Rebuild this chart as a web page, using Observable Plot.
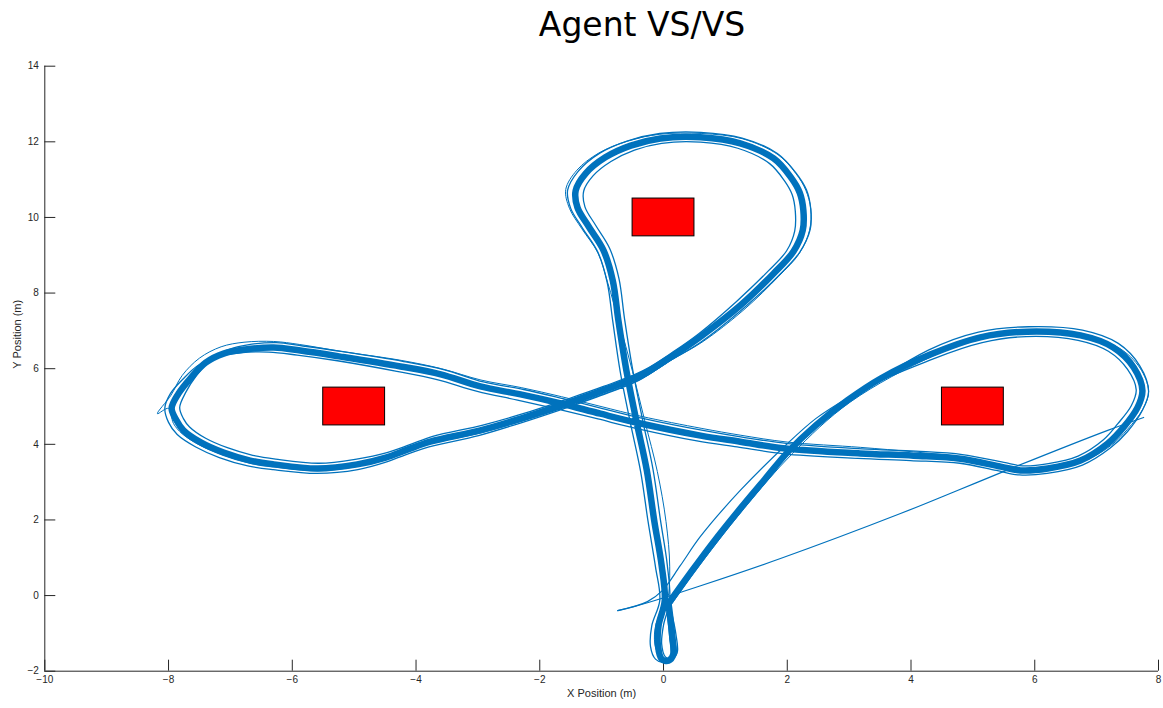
<!DOCTYPE html>
<html>
<head>
<meta charset="utf-8">
<script src="https://cdn.jsdelivr.net/npm/d3@7"></script>
<script src="https://cdn.jsdelivr.net/npm/@observablehq/plot@0.6"></script>
<style>
  html, body { margin: 0; padding: 0; background: #fff; overflow: hidden; }
  #wrap { position: relative; width: 1163px; height: 708px; }
  #title { position: absolute; top: 5px; left: 642px; transform: translateX(-50%);
           font-family: "DejaVu Sans", sans-serif; font-size: 33px; line-height: 40px;
           color: #000; white-space: nowrap; }
  #chart { position: absolute; top: 50px; left: 0; }
</style>
</head>
<body>
<div id="wrap">
  <div id="title">Agent VS/VS</div>
  <div id="chart"></div>
</div>
<script>
// ---- data ----
const titleText = "Agent VS/VS";
const xLabel = "X Position (m)";
const yLabel = "Y Position (m)";
const xTicks = [-10, -8, -6, -4, -2, 0, 2, 4, 6, 8];
const yTicks = [-2, 0, 2, 4, 6, 8, 10, 12, 14];

// obstacles (red boxes)
const obsX1 = [-0.5, -5.5, 4.5];
const obsX2 = [0.5, -4.5, 5.5];
const obsY1 = [9.5, 4.5, 4.5];
const obsY2 = [10.5, 5.5, 5.5];

// typical lap (centre of the bundle)
const lapMain = [
  [0.08,-0.21],[0.44,0.61],[0.79,1.38],[1.24,2.30],[1.65,3.10],[2.00,3.78],[2.46,4.50],[2.97,5.16],
  [3.51,5.74],[4.32,6.38],[5.12,6.83],[5.88,6.98],[6.74,6.88],[7.27,6.56],[7.60,6.03],[7.74,5.42],
  [7.66,4.97],[7.43,4.44],[7.18,4.02],[6.74,3.57],[6.21,3.36],[5.77,3.31],[5.45,3.41],[4.80,3.62],
  [4.04,3.70],[3.18,3.76],[1.97,3.89],[1.24,4.07],[0.60,4.23],[-0.37,4.55],[-1.02,4.81],[-1.66,5.08],
  [-2.31,5.32],[-2.96,5.53],[-3.60,5.85],[-4.25,6.06],[-5.22,6.32],[-5.87,6.48],[-6.30,6.56],[-6.76,6.51],
  [-7.11,6.40],[-7.40,6.16],[-7.65,5.74],[-7.84,5.34],[-7.95,4.95],[-7.87,4.63],[-7.76,4.37],[-7.48,4.05],
  [-7.11,3.78],[-6.68,3.57],[-6.30,3.47],[-5.59,3.36],[-4.95,3.47],[-4.49,3.65],[-4.14,3.86],[-3.77,4.07],
  [-2.96,4.37],[-2.31,4.68],[-1.66,5.03],[-1.02,5.40],[-0.37,5.82],[0.11,6.30],[0.60,6.85],[1.24,7.67],
  [1.78,8.52],[2.10,9.10],[2.25,9.66],[2.26,10.19],[2.20,10.66],[2.05,11.08],[1.78,11.56],[1.24,11.96],
  [0.60,12.12],[-0.05,12.09],[-0.53,11.90],[-0.94,11.59],[-1.26,11.16],[-1.42,10.71],[-1.39,10.26],[-1.21,9.76],
  [-0.97,9.13],[-0.82,8.33],[-0.73,7.28],[-0.60,5.95],[-0.44,4.63],[-0.27,3.31],[-0.15,1.98],[-0.03,0.79],
  [0.02,-0.13],[-0.08,-0.79],[-0.09,-1.32],[-0.03,-1.68],[0.08,-1.72],[0.16,-1.55],[0.14,-1.06],[0.10,-0.45],
  [0.08,-0.21]
];

// outer lap
const lapOuter = [
  [0.05,-0.2],[0.40,0.56],[1.18,2.18],[1.93,3.66],[2.93,5.06],[4.28,6.49],[5.09,6.97],[5.90,7.11],
  [6.77,7.02],[7.35,6.67],[7.70,6.07],[7.84,5.40],[7.74,4.90],[7.50,4.34],[7.22,3.90],[6.77,3.45],
  [6.20,3.23],[5.75,3.19],[5.38,3.31],[4.79,3.50],[3.99,3.57],[3.14,3.63],[1.94,3.75],[1.19,3.93],
  [0.54,4.09],[-0.41,4.41],[-1.06,4.67],[-1.71,4.93],[-2.36,5.17],[-3.01,5.40],[-3.66,5.71],[-4.31,5.93],
  [-5.27,6.21],[-5.92,6.36],[-6.38,6.44],[-6.84,6.42],[-7.22,6.30],[-7.53,6.08],[-7.77,5.72],[-7.97,5.34],
  [-8.06,4.96],[-8.00,4.58],[-7.86,4.26],[-7.56,3.93],[-7.18,3.65],[-6.72,3.43],[-6.31,3.33],[-5.60,3.23],
  [-4.94,3.33],[-4.50,3.52],[-4.16,3.73],[-3.79,3.93],[-2.99,4.23],[-2.34,4.55],[-1.69,4.90],[-1.05,5.27],
  [-0.40,5.69],[0.08,6.19],[0.60,6.70],[1.28,7.58],[1.86,8.46],[2.20,9.08],[2.37,9.68],[2.38,10.22],
  [2.31,10.73],[2.14,11.18],[1.84,11.69],[1.27,12.10],[0.60,12.25],[-0.06,12.22],[-0.59,12.02],[-1.03,11.70],
  [-1.38,11.22],[-1.55,10.72],[-1.50,10.24],[-1.31,9.72],[-1.06,9.08],[-0.91,8.28],[-0.82,7.25],[-0.70,5.92],
  [-0.54,4.60],[-0.37,3.28],[-0.25,1.96],[-0.13,0.76],[-0.06,-0.12],[-0.19,-0.80],[-0.21,-1.35],[-0.13,-1.68],
  [0.00,-1.76],[0.11,-1.62],[0.10,-1.10],[0.06,-0.45],[0.05,-0.2]
];

// inner lap
const lapInner = [
  [0.10,-0.22],[0.49,0.66],[1.30,2.40],[2.08,3.88],[3.03,5.26],[4.36,6.26],[5.15,6.69],[5.86,6.85],
  [6.70,6.75],[7.19,6.46],[7.50,5.98],[7.64,5.44],[7.56,5.02],[7.34,4.54],[7.11,4.12],[6.70,3.69],
  [6.22,3.49],[5.80,3.43],[5.50,3.52],[4.83,3.73],[4.08,3.82],[3.21,3.88],[2.01,4.02],[1.27,4.19],
  [0.66,4.36],[-0.32,4.68],[-0.97,4.94],[-1.61,5.20],[-2.26,5.45],[-2.91,5.65],[-3.54,5.97],[-4.20,6.19],
  [-5.18,6.45],[-5.83,6.60],[-6.26,6.69],[-6.72,6.63],[-7.02,6.51],[-7.30,6.26],[-7.54,5.84],[-7.72,5.38],
  [-7.82,4.97],[-7.76,4.68],[-7.66,4.46],[-7.40,4.16],[-7.05,3.91],[-6.64,3.71],[-6.27,3.61],[-5.57,3.50],
  [-4.96,3.61],[-4.47,3.78],[-4.10,3.99],[-3.73,4.21],[-2.92,4.51],[-2.27,4.81],[-1.62,5.16],[-0.97,5.53],
  [-0.33,5.95],[0.15,6.44],[0.58,6.94],[1.18,7.78],[1.69,8.58],[1.99,9.12],[2.12,9.64],[2.13,10.16],
  [2.08,10.60],[1.95,10.98],[1.71,11.43],[1.20,11.83],[0.60,11.99],[-0.03,11.96],[-0.47,11.78],[-0.85,11.48],
  [-1.14,11.10],[-1.29,10.70],[-1.27,10.28],[-1.10,9.80],[-0.87,9.18],[-0.72,8.38],[-0.63,7.32],[-0.50,5.99],
  [-0.34,4.66],[-0.17,3.34],[-0.05,2.00],[0.06,0.82],[0.10,-0.14],[0.00,-0.78],[-0.03,-1.28],[0.03,-1.62],
  [0.12,-1.68],[0.22,-1.52],[0.20,-1.02],[0.13,-0.44],[0.10,-0.22]
];

// stray lap (with the spike at the left end)
const lapStray = [
  [0.12,-0.25],[0.50,0.62],[1.30,2.30],[2.08,3.75],[3.02,5.12],[4.36,6.34],[5.16,6.80],[5.92,6.96],
  [6.80,6.86],[7.36,6.55],[7.70,6.02],[7.84,5.40],[7.75,4.94],[7.50,4.40],[7.24,3.98],[6.78,3.54],
  [6.24,3.32],[5.80,3.28],[5.46,3.40],[4.82,3.66],[4.04,3.80],[3.18,3.92],[2.00,4.06],[1.25,4.24],
  [0.62,4.42],[-0.36,4.74],[-1.01,5.00],[-1.65,5.26],[-2.30,5.50],[-2.95,5.70],[-3.59,6.00],[-4.24,6.22],
  [-5.22,6.46],[-5.88,6.64],[-6.30,6.72],[-6.78,6.70],[-7.15,6.58],[-7.50,6.28],[-7.78,5.82],[-7.96,5.30],
  [-8.18,4.81],[-8.00,4.95],[-7.92,4.55],[-7.78,4.28],[-7.50,3.98],[-7.12,3.72],[-6.68,3.50],[-6.28,3.40],
  [-5.58,3.30],[-4.94,3.42],[-4.47,3.62],[-4.13,3.82],[-3.76,4.02],[-2.96,4.30],[-2.31,4.60],[-1.66,4.94],
  [-1.02,5.30],[-0.37,5.72],[0.12,6.22],[0.64,6.72],[1.30,7.56],[1.86,8.44],[2.20,9.06],[2.36,9.66],
  [2.38,10.22],[2.30,10.72],[2.14,11.16],[1.85,11.66],[1.28,12.08],[0.62,12.22],[-0.06,12.20],[-0.58,12.02],
  [-1.05,11.70],[-1.40,11.25],[-1.58,10.74],[-1.52,10.24],[-1.32,9.70],[-1.06,9.06],[-0.90,8.26],[-0.72,7.24],
  [-0.50,5.92],[-0.30,4.60],[-0.10,3.28],[0.04,1.96],[0.10,0.76],[0.06,-0.14],[-0.12,-0.74],[-0.14,-1.28],
  [-0.06,-1.62],[0.04,-1.74],[0.18,-1.62],[0.18,-1.08],[0.12,-0.46],[0.12,-0.25]
];

// first approach from the start point
const startPath = [
  [-0.74,-0.40],[-0.26,-0.16],[-0.02,0.13],[0.27,0.79],[0.60,1.57],[1.24,2.78],[1.97,3.97],[2.46,4.68],[2.97,5.22]
];

// long straight segment
const jumpPath = [
  [-0.74,-0.40],[-0.26,-0.19],[0.60,0.26],[1.89,0.98],[3.83,2.17],[4.75,2.78],[5.66,3.39],[7.18,4.37],[7.76,4.71]
];

// ---- build ----
const obstacles = obsX1.map((d, i) => ({x1: obsX1[i], x2: obsX2[i], y1: obsY1[i], y2: obsY2[i]}));
const blue = "#0072BD";
const axisColor = "#262626";
const W = 1163, H = 658, mT = 15.7, mB = 37.3, mL = 44.3, mR = 5;
const frameW = W - mL - mR, frameH = H - mT - mB, tickLen = 11;
const px = d => d[0], py = d => d[1];

const chart = Plot.plot({
  width: W, height: H,
  marginTop: mT, marginBottom: mB, marginLeft: mL, marginRight: mR,
  x: {domain: [xTicks[0], xTicks[xTicks.length - 1]]},
  y: {domain: [yTicks[0], yTicks[yTicks.length - 1]]},
  style: {fontFamily: "'Liberation Sans', Arial, sans-serif", fontSize: "10px", color: axisColor, background: "white"},
  marks: [
    Plot.axisX({ticks: xTicks, tickSize: 0, tickPadding: 5, label: null, fontSize: 10, fill: axisColor}),
    Plot.axisY({ticks: yTicks, tickSize: 0, tickPadding: 6, label: null, fontSize: 10, fill: axisColor}),
    Plot.tickX(xTicks, {x: d => d, insetTop: frameH - tickLen, stroke: axisColor}),
    Plot.tickY(yTicks, {y: d => d, insetRight: frameW - tickLen, stroke: axisColor}),
    Plot.ruleX([xTicks[0]], {stroke: axisColor}),
    Plot.ruleY([yTicks[0]], {stroke: axisColor}),
    Plot.text([xLabel], {frameAnchor: "bottom", dy: 26, text: d => d, fontSize: 11, fill: axisColor}),
    Plot.text([yLabel], {frameAnchor: "left", dx: -27, rotate: -90, text: d => d, fontSize: 11, fill: axisColor}),
    Plot.line(jumpPath, {x: px, y: py, stroke: blue, strokeWidth: 1.2, curve: "catmull-rom"}),
    Plot.line(startPath, {x: px, y: py, stroke: blue, strokeWidth: 1.2, curve: "catmull-rom"}),
    Plot.line(lapOuter, {x: px, y: py, stroke: blue, strokeWidth: 1.3, curve: "catmull-rom"}),
    Plot.line(lapInner, {x: px, y: py, stroke: blue, strokeWidth: 1.3, curve: "catmull-rom"}),
    Plot.line(lapStray, {x: px, y: py, stroke: blue, strokeWidth: 1, curve: "catmull-rom"}),
    Plot.line(lapMain, {x: px, y: py, stroke: blue, strokeWidth: 6.5, curve: "catmull-rom"}),
    Plot.rect(obstacles, {x1: "x1", x2: "x2", y1: "y1", y2: "y2", fill: "#ff0000", stroke: "#000", strokeWidth: 1})
  ]
});
document.getElementById("chart").appendChild(chart);
document.getElementById("title").textContent = titleText;
</script>
</body>
</html>
